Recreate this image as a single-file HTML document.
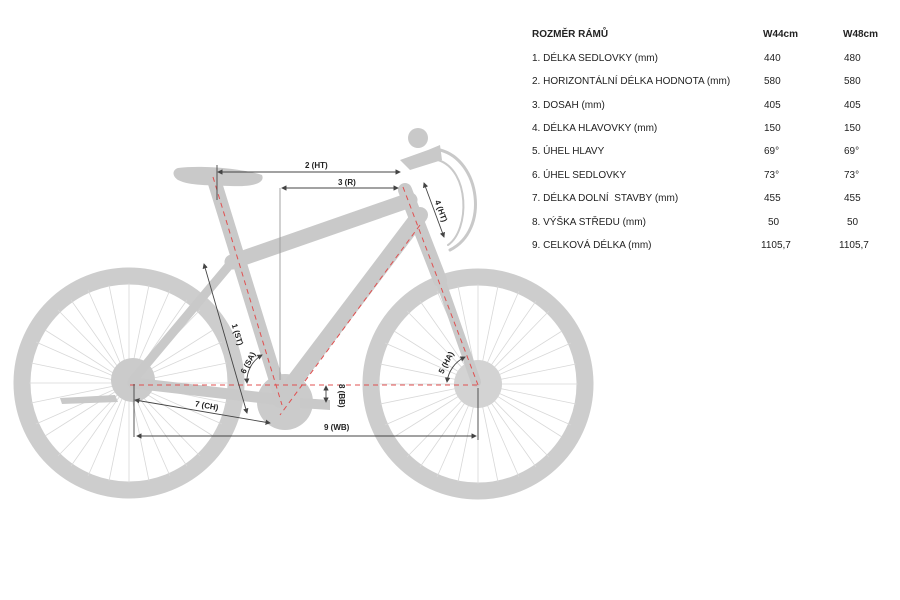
<!DOCTYPE html><html><head><style>
body{margin:0;background:#fff;width:900px;height:600px;overflow:hidden;font-family:"Liberation Sans",sans-serif}
</style></head><body>
<svg width="900" height="600" xmlns="http://www.w3.org/2000/svg" style="position:absolute;left:0;top:0">
<defs>
<marker id="a" markerWidth="6" markerHeight="6" refX="5" refY="3" orient="auto-start-reverse"><path d="M0,0L6,3L0,6z" fill="#444"/></marker>
</defs>
<g stroke="#cdcdcd" fill="none">
<circle cx="129" cy="383" r="107" stroke-width="17"/>
<circle cx="478" cy="384" r="107" stroke-width="17"/>
<g stroke-width="0.8" stroke="#d8d8d8">
<path d="M129,383 L129,283 M129,383 L200,310 M129,383 L229,383 M129,383 L200,456 M129,383 L129,483 M129,383 L58,456 M129,383 L29,383 M129,383 L58,310 M129,383 L170,290 M129,383 L222,342 M129,383 L222,424 M129,383 L170,476 M129,383 L88,476 M129,383 L36,424 M129,383 L36,342 M129,383 L88,290"/>
<path d="M129,383 L149,285 M129,383 L187,300 M129,383 L213,330 M129,383 L227,363 M129,383 L227,403 M129,383 L213,436 M129,383 L187,466 M129,383 L149,481 M129,383 L109,481 M129,383 L71,466 M129,383 L45,436 M129,383 L31,403 M129,383 L31,363 M129,383 L45,330 M129,383 L71,300 M129,383 L109,285"/>
<path d="M478,384 L478,284 M478,384 L549,311 M478,384 L578,384 M478,384 L549,457 M478,384 L478,484 M478,384 L407,457 M478,384 L378,384 M478,384 L407,311 M478,384 L519,291 M478,384 L571,343 M478,384 L571,425 M478,384 L519,477 M478,384 L437,477 M478,384 L385,425 M478,384 L385,343 M478,384 L437,291"/>
<path d="M478,384 L498,286 M478,384 L536,301 M478,384 L562,331 M478,384 L576,364 M478,384 L576,404 M478,384 L562,437 M478,384 L536,467 M478,384 L498,482 M478,384 L458,482 M478,384 L420,467 M478,384 L394,437 M478,384 L380,404 M478,384 L380,364 M478,384 L394,331 M478,384 L420,301 M478,384 L458,286"/>
</g>
</g>
<g fill="#cbcbcb" stroke="none">
<circle cx="133" cy="380" r="22"/>
<circle cx="285" cy="402" r="28"/>
<circle cx="478" cy="384" r="24" fill="#d3d3d3"/>
</g>
<g stroke="#c9c9c9" stroke-linecap="round" fill="none">
<path d="M214,180 L282,400" stroke-width="14"/>
<path d="M232,262 L410,200" stroke-width="15"/>
<path d="M420,215 L280,400" stroke-width="16"/>
<path d="M405,190 L440,280" stroke-width="14"/>
<path d="M435,265 L476,382" stroke-width="10"/>
<path d="M282,400 L133,383" stroke-width="11"/>
<path d="M232,262 L133,380" stroke-width="9"/>
<path d="M440,150 C480,160 490,230 450,250" stroke-width="3"/>
<path d="M438,160 C470,170 470,230 448,245" stroke-width="2"/>
</g>
<g fill="#c9c9c9">
<path d="M178,168 C200,165 240,168 262,175 C266,184 250,187 230,186 C210,185 190,186 178,180 C172,176 172,170 178,168 Z"/>
<path d="M400,160 L428,150 L440,145 L442,160 L410,170 Z"/>
<circle cx="418" cy="138" r="10"/>
<path d="M60,398 L115,395 L118,402 L62,404 Z"/>
<path d="M300,398 L330,400 L330,410 L300,408 Z"/>
</g>
<g stroke="#e05050" stroke-width="1" stroke-dasharray="5,4" fill="none">
<path d="M130,385 L478,385"/>
<path d="M213,177 L282,405"/>
<path d="M403,187 L478,385"/>
<path d="M420,225 L280,415"/>
</g>
<g stroke="#444" stroke-width="0.9" fill="none">
<path d="M218,172 L400,172" marker-start="url(#a)" marker-end="url(#a)"/>
<path d="M217,165 L217,200"/>
<path d="M282,188 L398,188" marker-start="url(#a)" marker-end="url(#a)"/>
<path d="M280,188 L280,380" stroke="#999"/>
<path d="M424,183 L444,237" marker-start="url(#a)" marker-end="url(#a)"/>
<path d="M204,264 L247,413" marker-start="url(#a)" marker-end="url(#a)"/>
<path d="M135,400 L270,423" marker-start="url(#a)" marker-end="url(#a)"/>
<path d="M134,384 L134,437"/>
<path d="M137,436 L476,436" marker-start="url(#a)" marker-end="url(#a)"/>
<path d="M478,388 L478,440"/>
<path d="M326,386 L326,402" marker-start="url(#a)" marker-end="url(#a)"/>
<path d="M247,383 A30,30 0 0 1 262,355" marker-start="url(#a)" marker-end="url(#a)"/>
<path d="M447,382 A32,32 0 0 1 465,357" marker-start="url(#a)" marker-end="url(#a)"/>
</g>
<g font-size="8" font-weight="bold" fill="#222">
<text x="305" y="168">2 (HT)</text>
<text x="338" y="185">3 (R)</text>
<text x="432" y="205" transform="rotate(70 436 205)">4 (HT)</text>
<text x="224" y="325" transform="rotate(73 228 330)">1 (ST)</text>
<text x="240" y="370" transform="rotate(-62 246 368)">6 (SA)</text>
<text x="438" y="370" transform="rotate(-62 444 368)">5 (HA)</text>
<text x="195" y="408" transform="rotate(10 205 405)">7 (CH)</text>
<text x="331" y="384" transform="rotate(90 335 388)">8 (BB)</text>
<text x="324" y="430">9 (WB)</text>
</g>
<g font-size="10" fill="#222">
<text x="532" y="37" font-weight="bold">ROZMĚR RÁMŮ</text>
<text x="763" y="37" font-weight="bold">W44cm</text>
<text x="843" y="37" font-weight="bold">W48cm</text>
<text x="532" y="61">1. DÉLKA SEDLOVKY (mm)</text><text x="764" y="61">440</text><text x="844" y="61">480</text>
<text x="532" y="84">2. HORIZONTÁLNÍ DÉLKA HODNOTA (mm)</text><text x="764" y="84">580</text><text x="844" y="84">580</text>
<text x="532" y="108">3. DOSAH (mm)</text><text x="764" y="108">405</text><text x="844" y="108">405</text>
<text x="532" y="131">4. DÉLKA HLAVOVKY (mm)</text><text x="764" y="131">150</text><text x="844" y="131">150</text>
<text x="532" y="154">5. ÚHEL HLAVY</text><text x="764" y="154">69°</text><text x="844" y="154">69°</text>
<text x="532" y="178">6. ÚHEL SEDLOVKY</text><text x="764" y="178">73°</text><text x="844" y="178">73°</text>
<text x="532" y="201">7. DÉLKA DOLNÍ&#160; STAVBY (mm)</text><text x="764" y="201">455</text><text x="844" y="201">455</text>
<text x="532" y="225">8. VÝŠKA STŘEDU (mm)</text><text x="768" y="225">50</text><text x="847" y="225">50</text>
<text x="532" y="248">9. CELKOVÁ DÉLKA (mm)</text><text x="761" y="248">1105,7</text><text x="839" y="248">1105,7</text>
</g>
</svg>
</body></html>
